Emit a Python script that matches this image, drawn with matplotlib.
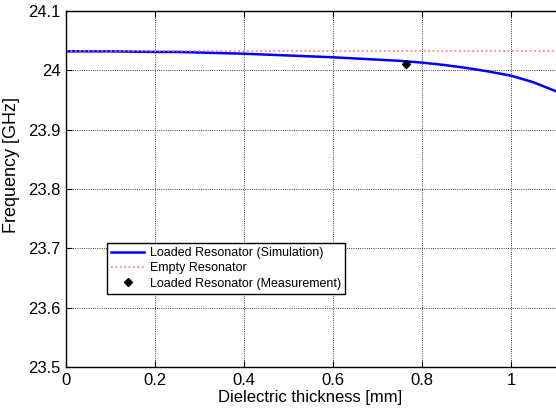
import matplotlib
matplotlib.use("Agg")
import matplotlib.pyplot as plt

plt.rcParams['font.family'] = ['Liberation Sans', 'DejaVu Sans']

# simulated resonance frequency vs dielectric thickness
thickness = [0, 0.1, 0.2, 0.25, 0.3, 0.4, 0.5, 0.6, 0.7, 0.75, 0.8, 0.85, 0.9, 0.95, 1.0, 1.05, 1.1]
freq_sim = [24.032, 24.032, 24.031, 24.031, 24.030, 24.028, 24.025, 24.022, 24.018, 24.016,
            24.013, 24.009, 24.004, 23.998, 23.991, 23.980, 23.965]
freq_empty = 24.032

# measured point
meas_thickness = [0.764]
meas_freq = [24.010]

xticks = [0, 0.2, 0.4, 0.6, 0.8, 1.0]
xticklabels = ['0', '0.2', '0.4', '0.6', '0.8', '1']
yticks = [23.5, 23.6, 23.7, 23.8, 23.9, 24.0, 24.1]
yticklabels = ['23.5', '23.6', '23.7', '23.8', '23.9', '24', '24.1']

fig = plt.figure(figsize=(5.56, 4.11), dpi=100)
ax = fig.add_axes([66 / 556, 1 - 367 / 411, 534 / 556, 356 / 411])

ax.plot(thickness, freq_sim, color='blue', lw=1.8, label='Loaded Resonator (Simulation)')
ax.axhline(freq_empty, color=(1, 0.45, 0.45), ls=':', lw=1.2, label='Empty Resonator')
ax.plot(meas_thickness, meas_freq, 'kD', ms=4.5, ls='none', label='Loaded Resonator (Measurement)')

ax.set_xlim(0, 1.2)
ax.set_ylim(23.5, 24.1)
ax.set_xticks(xticks)
ax.set_xticklabels(xticklabels)
ax.set_yticks(yticks)
ax.set_yticklabels(yticklabels)
ax.tick_params(direction='in', labelsize=12, top=True, right=True, length=4, pad=4)
ax.grid(True, color='black', ls=':', lw=0.6)
for s in ax.spines.values():
    s.set_linewidth(1.0)

ax.set_xlabel('Dielectric thickness [mm]', fontsize=12, va='top')
ax.xaxis.set_label_coords(0.457, -0.064)
ax.set_ylabel('Frequency [GHz]', fontsize=13)
ax.yaxis.set_label_coords(-0.086, 0.567)

leg = ax.legend(loc='upper left', bbox_to_anchor=(41 / 534, (367 - 243) / 356), fontsize=9,
                fancybox=False, framealpha=1, edgecolor='black', borderpad=0.35,
                labelspacing=0.25, handlelength=2.6, handletextpad=0.45, borderaxespad=0)
leg.get_frame().set_linewidth(1.0)

fig.savefig('out.png', dpi=100)
